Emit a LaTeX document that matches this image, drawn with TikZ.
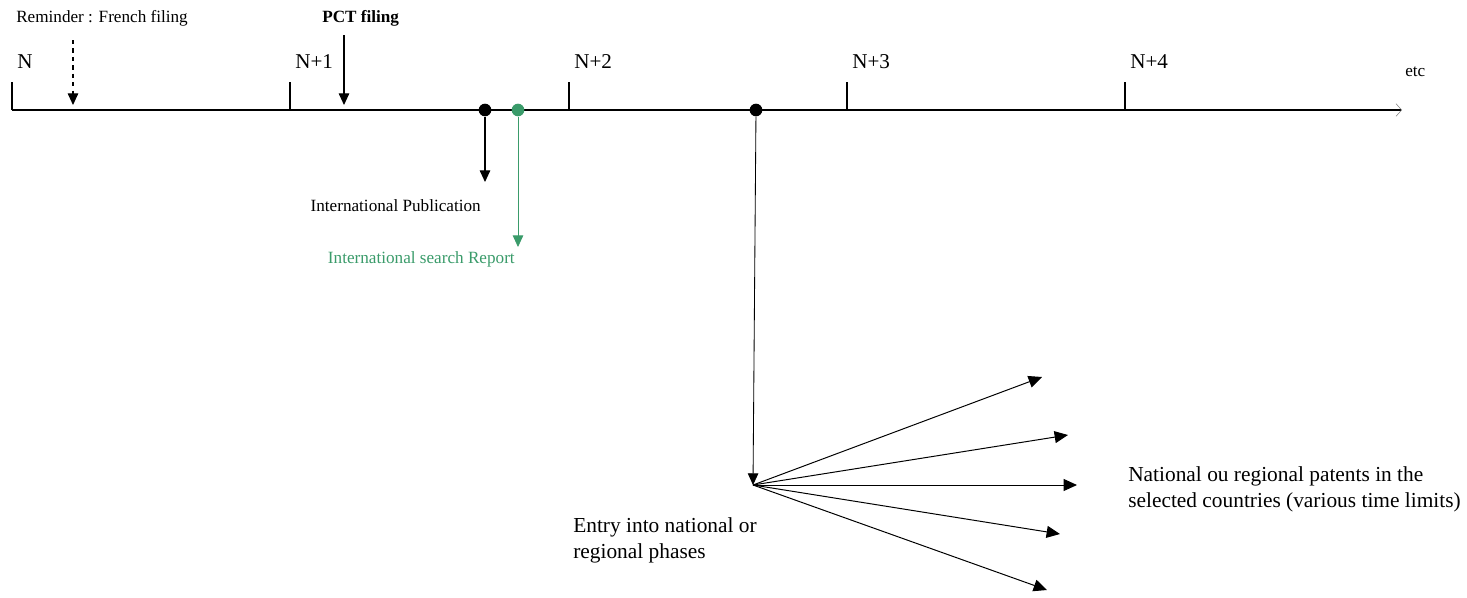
\documentclass[tikz,border=0pt]{standalone}
\usepackage{fontspec}
\setmainfont{Liberation Serif}
\usetikzlibrary{arrows.meta,positioning}
\definecolor{isrgreen}{RGB}{58,155,106}

\begin{document}
\begin{tikzpicture}[x=0.025cm,y=-0.025cm]
	  \tikzstyle{year}=[font=\fontsize{15}{18}\selectfont,inner sep=0pt,anchor=base west]
	  \tikzstyle{note}=[font=\fontsize{12.2}{14}\selectfont,inner sep=0pt]
	  \tikzstyle{big}=[font=\fontsize{15.2}{18.2}\selectfont,inner sep=0pt,align=left,anchor=base west]
	  \tikzstyle{tick}=[line width=1pt]
	  \tikzstyle{event}=[circle,fill=black,inner sep=0pt,minimum size=9pt]
	  \tikzstyle{down}=[line width=0.8pt,-{Triangle[length=8.3pt,width=7.5pt]}]
	  \tikzstyle{fan}=[line width=0.7pt,-{Triangle[length=9.5pt,width=8.5pt]}]

		\useasboundingbox (0,0) rectangle (1467,598);

		% time axis
		\coordinate (start) at (12,110);
		\coordinate (end) at (1402,110);
		\draw[line width=1pt,-{Straight Barb[length=4pt,width=9pt,line width=0.4pt,color=gray]}] (start) -- (end);
		\node[note,anchor=base west] (etc) at (1405,76) {etc};

		\foreach \x/\lab [count=\i] in {12/N,290/N+1,569/N+2,847/N+3,1125/N+4}{
			\coordinate (t\i) at (\x,110);
			\draw[tick] (t\i) -- ++(0,-28);
			\node[year] (y\i) at (\x+5,68) {\lab};
		}

		% filings
		\node[note,anchor=base west] (french) at (16,22) {Reminder : French filing};
		\node[note,anchor=base west] (pct) at (322,22) {\textbf{PCT filing}};
		\coordinate (fr1) at (73,40);
		\coordinate (fr2) at (73,105);
		\coordinate (pc1) at (344,35);
		\coordinate (pc2) at (344,105);
		\draw[down,dashed] (fr1) -- (fr2);
		\draw[down] (pc1) -- (pc2);

		% publication and search report
		\node[event] (pub) at (485,110) {};
		\node[event,fill=isrgreen] (isr) at (518,110) {};
		\coordinate (pubend) at (485,182);
		\coordinate (isrend) at (518,247);
		\draw[down] (pub) -- (pubend);
		\draw[down,isrgreen,line width=0.6pt] (isr) -- (isrend);
		\node[note,anchor=base east] (publab) at (481,211) {International Publication};
		\node[note,anchor=base east,text=isrgreen] (isrlab) at (515,263) {International search Report};

		% national phases
		\node[event] (entry) at (756,110) {};
		\coordinate (hub) at (753,485);
		\draw[down,line width=0.6pt] (entry) -- (hub);
		\foreach \tx/\ty [count=\i] in {1042/377,1068/435,1077/485,1060/534,1047/590}{
			\coordinate (c\i) at (\tx,\ty);
			\draw[fan] (hub) -- (c\i);
		}
		\node[big] (entrylab) at (573,558) {Entry into national or\\regional phases};
		\node[big] (patlab) at (1128,507) {National ou regional patents in the\\selected countries (various time limits)};
	\end{tikzpicture}
\end{document}
